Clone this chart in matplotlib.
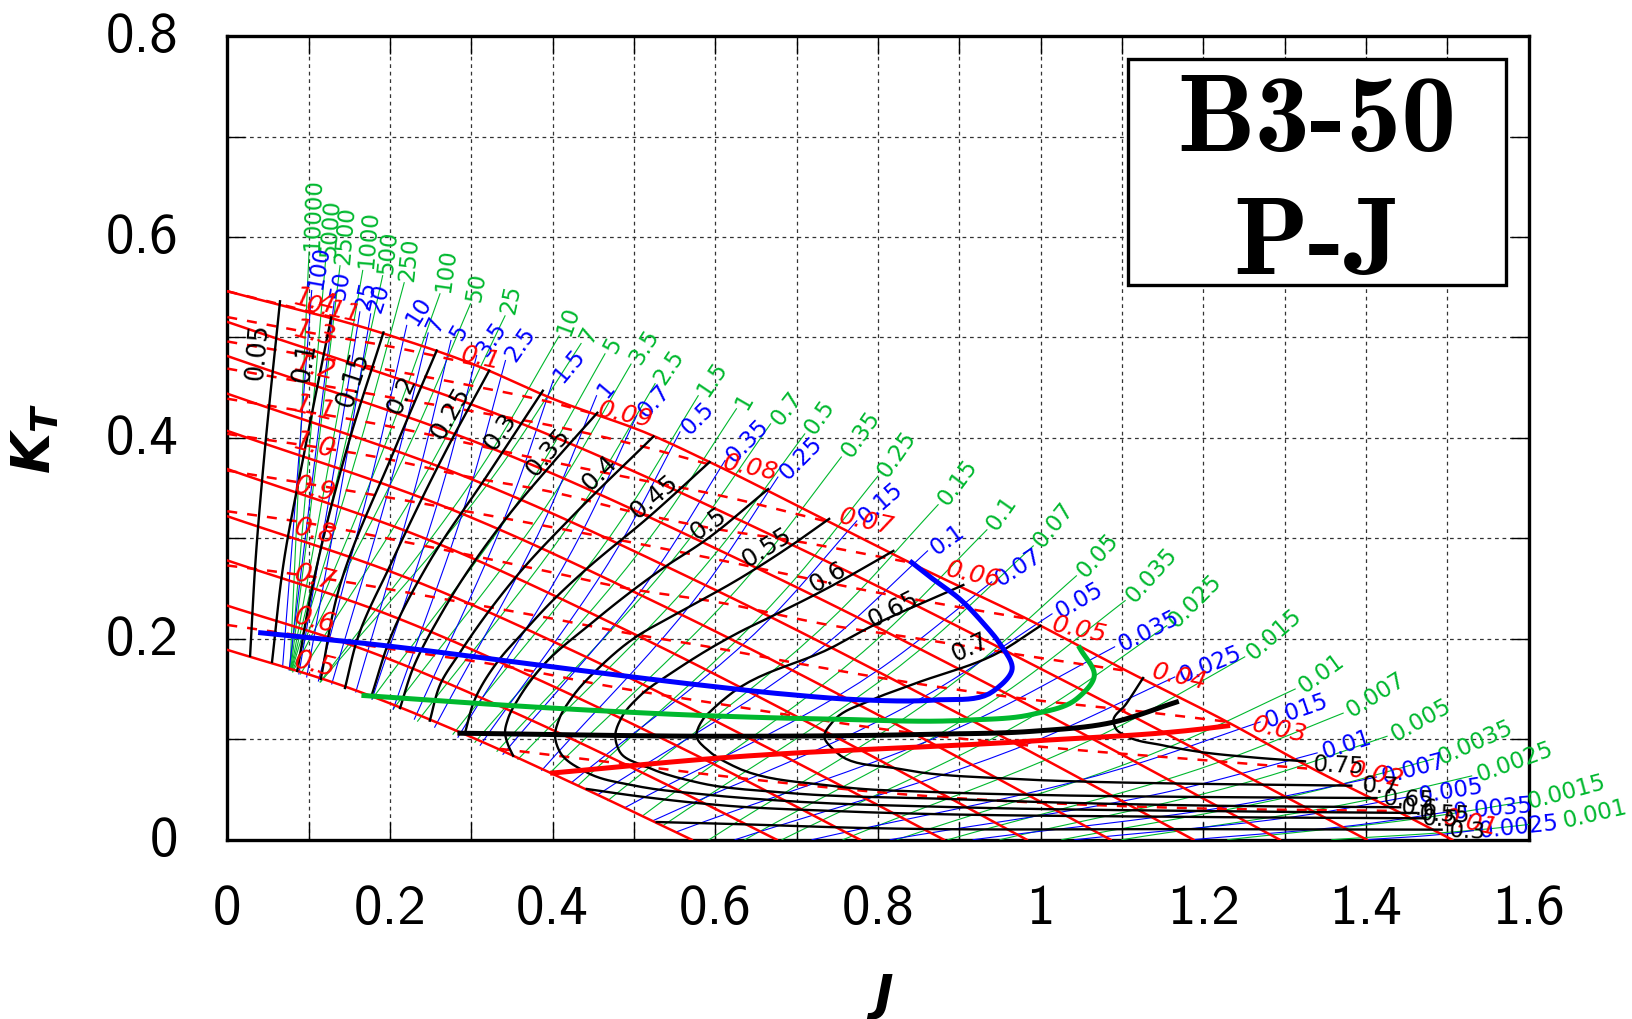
import numpy as np
import matplotlib
matplotlib.use('Agg')
import matplotlib.pyplot as plt
from matplotlib.patches import Rectangle
from matplotlib.transforms import ScaledTranslation

# solid red lines, P/D 0.5 .. 1.3 (J, KT), top one is the envelope below
pd_labels = ['0.5', '0.6', '0.7', '0.8', '0.9', '1.0', '1.1', '1.2', '1.3', '1.4']
pd_j = [[0, .143, .286, .428, .571],
        [0, .169, .338, .507, .6755],
        [0, .195, .389, .584, .778],
        [0, .220, .441, .661, .881],
        [0, .246, .492, .737, .983],
        [0, .272, .543, .815, 1.086],
        [0, .297, .594, .891, 1.188],
        [0, .324, .647, .971, 1.294],
        [0, .350, .701, 1.051, 1.401]]
pd_kt = [[.189, .153, .107, .055, 0],
         [.233, .189, .132, .068, 0],
         [.278, .225, .157, .081, 0],
         [.322, .261, .182, .093, 0],
         [.369, .299, .208, .107, 0],
         [.407, .330, .230, .118, 0],
         [.444, .360, .251, .129, 0],
         [.4815, .390, .272, .140, 0],
         [.5155, .418, .291, .149, 0]]
env_j = [0, .188, .3065, .4, .524, .593, .741, .839, .983, 1.106, 1.229, 1.335, 1.438, 1.506]
env_kt = [.546, .505, .472, .439, .402, .376, .316, .276, .22, .168, .1175, .0704, .0286, 0]
pd_label_j = [.108] * 10
pd_label_kt = [.175, .218, .2617, .3068, .349, .3925, .429, .4708, .5037, .5365]

# dashed red lines, KQ
kq_labels = ['0.01', '0.02', '0.03', '0.04', '0.05', '0.06', '0.07', '0.08', '0.09', '0.1', '0.11']
kq_j = [[.335, .442, .606, .835, 1.155, 1.438],
        [0, .2, .339, .475, .606, .835, 1.008, 1.196, 1.335],
        [0, .086, .298, .4, .483, .606, .705, .835, .983, 1.13, 1.229],
        [0, .1, .221, .4, .483, .606, .745, .835, .983, 1.106],
        [0, .196, .4, .59, .696, .806, .889, .983],
        [0, .196, .298, .4, .5, .589, .704, .839],
        [0, .196, .4, .503, .598, .741],
        [0, .196, .298, .4, .503, .6],
        [0, .196, .3, .4, .455],
        [0, .1, .2, .31],
        [0, .13]]
kq_kt = [[.0905, .08, .0636, .045, .032, .0286],
         [.2138, .19, .173, .152, .135, .107, .092, .0795, .0704],
         [.273, .264, .235, .22, .207, .19, .175, .157, .14, .127, .1175],
         [.327, .315, .296, .266, .2515, .236, .213, .202, .183, .168],
         [.3675, .341, .311, .281, .263, .245, .233, .22],
         [.404, .379, .361, .346, .326, .311, .2965, .276],
         [.439, .412, .376, .359, .344, .316],
         [.469, .441, .427, .412, .393, .372],
         [.496, .468, .452, .435, .423],
         [.5203, .505, .491, .472],
         [.546, .52]]
kq_label_j = [1.528, 1.413, 1.294, 1.171, 1.048, .917, .786, .643, .489, .311, .13]
kq_label_kt = [.0176, .0654, .11, .163, .21, .2646, .3174, .371, .424, .4807, .5286]

# black efficiency contours
eta_j = [[.028, .035, .044, .0648],
         [.055, .0687, .0955, .128],
         [.086, .1017, .147, .192],
         [.115, .134, .206, .2575],
         [.1447, .16, .2, .27, .322],
         [.178, .2, .2455, .319, .388],
         [.2124, .228, .2615, .339, .4, .455],
         [.249, .262, .285, .36, .425, .524],
         [.2925, .303, .335, .36, .4, .4375, .52, .593],
         [.3515, .345, .3415, .345, .36, .3845, .45, .54, .585, .665],
         [.74, .70, .63, .548, .499, .458, .425, .408, .403, .409, .442, .503, .581, .688, .889, 1.2, 1.462],
         [.819, .737, .671, .63, .548, .507, .485, .477, .483, .516, .581, .683, .889, 1.0, 1.2, 1.442],
         [.905, .786, .745, .622, .597, .585, .577, .594, .622, .745, .885, 1.0, 1.2, 1.413],
         [1.0, .95, .844, .795, .745, .734, .749, .827, .971, 1.073, 1.134, 1.382],
         [1.126, 1.105, 1.0895, 1.093, 1.106, 1.15, 1.196, 1.26, 1.325],
         [.442, .503, .618, .745, 1.2, 1.473],
         [.528, .618, .786, 1.2, 1.493]]
eta_kt = [[.183, .281, .369, .536],
          [.177, .2726, .389, .521],
          [.168, .24, .389, .505],
          [.16, .24, .389, .487],
          [.151, .2, .2726, .389, .467],
          [.145, .2, .2726, .362, .447],
          [.131, .17, .2227, .316, .375, .425],
          [.1185, .155, .185, .2665, .3226, .4014],
          [.107, .137, .18, .203, .238, .2665, .3225, .376],
          [.0835, .095, .107, .12, .143, .17, .217, .2726, .2965, .349],
          [.3194, .2965, .26, .223, .2, .172, .143, .12, .103, .0873, .067, .0535, .0455, .0385, .0325, .0285, .0266],
          [.2875, .25, .223, .2068, .167, .143, .122, .103, .087, .0724, .0565, .047, .0405, .0375, .034, .0323],
          [.2536, .21, .192, .147, .13, .12, .103, .087, .0735, .0535, .047, .0445, .0425, .0415],
          [.213, .187, .155, .14, .118, .103, .087, .0704, .0604, .0574, .0564, .0538],
          [.161, .135, .118, .11, .103, .094, .0874, .082, .078],
          [.0505, .0435, .0336, .0286, .0226, .0213],
          [.0176, .0157, .0116, .0105, .01]]
eta_labels = ['0.05', '0.1', '0.15', '0.2', '0.25', '0.3', '0.35', '0.4', '0.45', '0.5', '0.55', '0.6',
              '0.65', '0.7', '0.75', '0.7', '0.65', '0.6', '0.55', '0.5', '0.3']
eta_label_j = [.0378, .0955, .1548, .2146, .274, .335, .394, .458, .524, .591, .663, .738, .819, .913,
               1.366, 1.417, 1.452, 1.466, 1.497, 1.491, 1.524]
eta_label_kt = [.4868, .4757, .4588, .444, .426, .407, .387, .366, .3425, .3155, .2915, .2627, .23, .192,
                .0744, .0535, .0405, .0325, .0256, .0207, .009]

# thin green lines
green_labels = ['10000', '5000', '2500', '1000', '500', '250', '100', '50', '25', '10', '7', '5', '3.5', '2.5',
                '1.5', '1', '0.7', '0.5', '0.35', '0.25', '0.15', '0.1', '0.07', '0.05', '0.035', '0.025',
                '0.015', '0.01', '0.007', '0.005', '0.0035', '0.0025', '0.0015', '0.001']
green_j0 = [.077, .0775, .078, .0785, .079, .0795, .08, .0805, .09, .114, .1147, .178, .204, .234, .2775, .3045,
            .3316, .3574, .3967, .4312, .468, .511, .5357, .5923, .6365, .682, .757, .8235, .886, .95, 1.026,
            1.1, 1.23, 1.358]
green_kt0 = [.169, .169, .169, .169, .169, .169, .168, .167, .165, .157, .157, .14, .13, .118, .105, .097,
             .088, .08, .0665, .054, .039, .024, .014, 0, 0, 0, 0, 0, 0, 0, 0, 0, 0, 0]
green_j1 = [.1005, .121, .1386, .1665, .191, .2175, .2615, .299, .3415, .408, .435, .4644, .4964, .526, .579,
            .626, .668, .71, .755, .8, .874, .934, .991, 1.044, 1.104, 1.155, 1.251, 1.313, 1.372, 1.426, 1.483,
            1.53, 1.592, 1.636]
green_kt1 = [.585, .578, .5714, .5667, .5615, .5545, .5435, .5335, .5215, .5015, .494, .4837, .4735, .454, .442,
             .429, .414, .404, .381, .362, .3335, .3085, .2925, .2627, .238, .213, .182, .15, .126, .103, .0804,
             .0635, .0375, .0185]
green_sag = [0, 0, .002, .004, .006, .008, .01, .014, .018, .018, .018, .018, .018, .018, .018, .018, .018, .018,
             .018, .018, .018, .018, .018, .018, .016, .015, .012, .01, .009, .008, .006, .005, .003, .002]
green_angle = [88, 86, 85, 85, 84, 84, 82, 80, 78, 70, 62, 62, 58, 56, 56, 60, 52, 55, 55, 55, 53, 55, 51, 48,
               48, 45, 41, 36, 32, 29, 24, 20, 15, 13]

# thin blue lines
blue_labels = ['100', '50', '25', '20', '10', '7', '5', '3.5', '2.5', '1.5', '1', '0.7', '0.5', '0.35', '0.25',
               '0.15', '0.1', '0.07', '0.05', '0.035', '0.025', '0.015', '0.01', '0.007', '0.005', '0.0035', '0.0025']
blue_j0 = [.068, .076, .088, .0976, .112, .1284, .158, .178, .204, .23, .255, .2836, .311, .339, .3866, .4234,
           .456, .489, .5236, .553, .6243, .719, .815, .917, 1.042, 1.187, 1.4]
blue_kt0 = [.172, .169, .165, .162, .158, .155, .147, .14, .13, .12, .112, .102, .094, .085, .069, .057,
            .045, .032, .019, .008, 0, 0, 0, 0, 0, 0, 0]
blue_j1 = [.1038, .1314, .163, .1763, .2206, .247, .275, .3066, .342, .4007, .454, .5034, .5566, .612, .677,
           .774, .861, .94, 1.014, 1.091, 1.165, 1.27, 1.34, 1.413, 1.458, 1.5, 1.532]
blue_kt1 = [.5467, .5355, .5255, .5235, .512, .5045, .497, .482, .477, .457, .442, .4223, .406, .3775, .361,
            .3174, .2875, .2567, .2248, .192, .162, .1172, .0864, .0624, .0435, .0276, .009]
blue_sag = [0, 0, .004, .006, .01, .012, .014, .018, .018, .018, .018, .018, .018, .018, .018, .018, .018, .018,
            .016, .014, .012, .01, .008, .006, .005, .003, .001]
blue_angle = [80, 80, 78, 72, 58, 65, 60, 55, 55, 50, 50, 47, 45, 46, 45, 41, 36, 33, 30, 27, 22, 19, 18, 15, 9, 5, 6]

# thick optimum lines
opt_blue_j = [.041, .196, .4, .581, .684, .786, .868, .942, .965, .95, .93, .90, .87, .8415]
opt_blue_kt = [.206, .193, .172, .154, .145, .139, .139, .148, .17, .195, .215, .24, .258, .276]
opt_green_j = [.168, .4, .606, .745, .909, .991, 1.044, 1.066, 1.048]
opt_green_kt = [.1435, .131, .123, .12, .119, .125, .14, .163, .191]
opt_black_j = [.286, .606, .868, .991, 1.0895, 1.167]
opt_black_kt = [.106, .103, .105, .108, .117, .137]
opt_red_j = [.4, .606, .991, 1.196, 1.23]
opt_red_kt = [.0664, .0814, .0983, .11, .1134]

x_ticks = [0, .2, .4, .6, .8, 1.0, 1.2, 1.4, 1.6]
x_tick_labels = ['0', '0.2', '0.4', '0.6', '0.8', '1', '1.2', '1.4', '1.6']
y_ticks = [0, .2, .4, .6, .8]
y_tick_labels = ['0', '0.2', '0.4', '0.6', '0.8']

eta_label_rot = [85, 80, 72, 65, 60, 55, 50, 45, 40, 35, 32, 30, 27, 25, -3, -3, -3, -3, -3, -3, -3]


def smooth(xs, ys, n=12):
    # hermite through the read points, only so the curves are not angular
    xs = np.array(xs, float)
    ys = np.array(ys, float)
    px = xs * 813.3
    py = ys * 1004.0
    t = np.r_[0, np.cumsum(np.hypot(np.diff(px), np.diff(py)))]
    mx = np.gradient(px, t)
    my = np.gradient(py, t)
    out_x, out_y = [], []
    for i in range(len(t) - 1):
        h = t[i + 1] - t[i]
        s = np.linspace(0, 1, n)
        h00 = 2 * s**3 - 3 * s**2 + 1
        h10 = s**3 - 2 * s**2 + s
        h01 = -2 * s**3 + 3 * s**2
        h11 = s**3 - s**2
        out_x.extend(h00 * px[i] + h10 * h * mx[i] + h01 * px[i + 1] + h11 * h * mx[i + 1])
        out_y.extend(h00 * py[i] + h10 * h * my[i] + h01 * py[i + 1] + h11 * h * my[i + 1])
    return np.array(out_x) / 813.3, np.array(out_y) / 1004.0


fig = plt.figure(figsize=(16.33, 10.2), dpi=100)
ax = fig.add_axes([227.3 / 1633, 1 - 840.7 / 1020, 1301.3 / 1633, 803.6 / 1020])
ax.set_xlim(0, 1.6)
ax.set_ylim(0, 0.8)
ax.set_xticks(x_ticks)
ax.set_xticklabels(x_tick_labels, family='cmss10', fontsize=41)
ax.set_yticks(y_ticks)
ax.set_yticklabels(y_tick_labels, family='cmss10', fontsize=41)
ax.set_xticks(np.arange(.1, 1.6, .2), minor=True)
ax.set_yticks(np.arange(.1, .8, .2), minor=True)
ax.tick_params(which='both', direction='in', top=True, right=True, length=13, width=1.0)
ax.tick_params(axis='x', which='major', pad=32)
ax.tick_params(axis='y', which='major', pad=35)
ax.grid(which='both', color='#333333', lw=0.9, linestyle=(0, (3, 3)))
ax.set_axisbelow(True)
for sp in ax.spines.values():
    sp.set_linewidth(2.4)
shift_up = ScaledTranslation(0, 3.2 / 72, fig.dpi_scale_trans)
for lab in ax.get_yticklabels():
    lab.set_transform(lab.get_transform() + shift_up)


def thin_line(j0, kt0, j1, kt1, sag, angle, text, color):
    # start, bent point 30% below the end, end
    jm = j1 - .3 * (j1 - j0)
    ktm = kt1 - .3 * (kt1 - kt0) - sag
    ax.plot(*smooth([j0, jm, j1], [kt0, ktm, kt1]), color=color, lw=0.8, zorder=3)
    a = np.radians(angle)
    ax.annotate(text, (j1, kt1), xytext=(2 * np.cos(a) + 2, 2 * np.sin(a)), textcoords='offset points',
                rotation=angle, rotation_mode='anchor', ha='left', va='center', color=color,
                fontsize=16.5, annotation_clip=False, zorder=8)


for i in range(len(green_labels)):
    thin_line(green_j0[i], green_kt0[i], green_j1[i], green_kt1[i], green_sag[i], green_angle[i],
              green_labels[i], '#00b82e')
for i in range(len(blue_labels)):
    thin_line(blue_j0[i], blue_kt0[i], blue_j1[i], blue_kt1[i], blue_sag[i], blue_angle[i],
              blue_labels[i], '#0000ff')

for xs, ys in zip(pd_j, pd_kt):
    ax.plot(*smooth(xs, ys), color='#ff0000', lw=1.8, zorder=4)
ax.plot(*smooth(env_j, env_kt), color='#ff0000', lw=1.8, zorder=4)
for xs, ys in zip(kq_j, kq_kt):
    ax.plot(*smooth(xs, ys), color='#ff0000', lw=1.8, linestyle=(0, (4, 4)), zorder=4)
for xs, ys in zip(eta_j, eta_kt):
    ax.plot(*smooth(xs, ys), color='black', lw=1.7, zorder=5)

ax.plot(*smooth(opt_blue_j, opt_blue_kt), color='#0000ff', lw=3.6, zorder=6)
ax.plot(*smooth(opt_green_j, opt_green_kt), color='#00b82e', lw=3.6, zorder=6)
ax.plot(*smooth(opt_black_j, opt_black_kt), color='black', lw=3.6, zorder=6)
ax.plot(*smooth(opt_red_j, opt_red_kt), color='#ff0000', lw=3.6, zorder=6)

for t, x, y in zip(pd_labels, pd_label_j, pd_label_kt):
    ax.text(x, y, t, color='#ff0000', fontsize=19, rotation=-14, style='oblique', ha='center', va='center', zorder=8)
for t, x, y in zip(kq_labels, kq_label_j, kq_label_kt):
    ax.text(x, y, t, color='#ff0000', fontsize=18, rotation=-12, style='oblique', ha='center', va='center', zorder=8)
for t, x, y, r in zip(eta_labels, eta_label_j, eta_label_kt, eta_label_rot):
    ax.text(x, y, t, color='black', fontsize=16.5 + 2 * abs(np.sin(np.radians(r))), rotation=r,
            ha='center', va='center', zorder=8)

ax.add_patch(Rectangle((.6924, .690), .2902, .2815, transform=ax.transAxes, fc='white', ec='black', lw=2.4, zorder=9))
ax.text(.6924 + .1451, .893, 'B3-50', transform=ax.transAxes, family='cmb10', fontsize=79,
        ha='center', va='center', zorder=10)
ax.text(.6924 + .1451, .740, 'P-J', transform=ax.transAxes, family='cmb10', fontsize=79,
        ha='center', va='center', zorder=10)

fig.text(880 / 1633, 1 - 997 / 1020, r'$\mathbfit{J}$', math_fontfamily='dejavusans', fontsize=36,
         ha='center', va='center')
fig.text(35 / 1633, 1 - 439 / 1020, r'$\mathbfit{K_T}$', math_fontfamily='dejavusans', fontsize=38,
         rotation=90, ha='center', va='center')

fig.savefig('out.png', dpi=100)
